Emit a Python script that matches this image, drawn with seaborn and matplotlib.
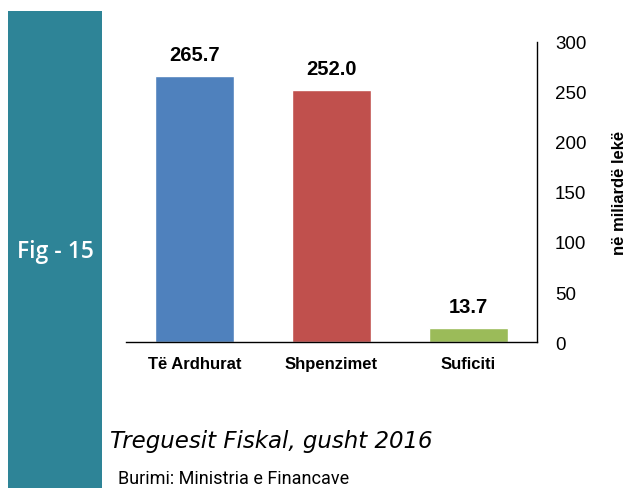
import matplotlib
matplotlib.use("Agg")
import matplotlib.pyplot as plt
import matplotlib.patches as mpatches
import seaborn as sns
import pandas as pd

sns.set_style("white")
plt.rcParams['font.family'] = ['Liberation Sans', 'DejaVu Sans']
plt.rcParams['text.color'] = 'black'
plt.rcParams['xtick.color'] = 'black'
plt.rcParams['ytick.color'] = 'black'
plt.rcParams['axes.labelcolor'] = 'black'

categories = ["Të Ardhurat", "Shpenzimet", "Suficiti"]
values = [265.7, 252.0, 13.7]
bar_colors = ["#4F81BD", "#C0504D", "#9BBB59"]
yticks = [0, 50, 100, 150, 200, 250, 300]

df = pd.DataFrame({"kategoria": categories, "vlera": values})

fig = plt.figure(figsize=(6.31, 4.89), dpi=100)
ax = fig.add_axes([126 / 631, 1 - 343 / 489, 411 / 631, 300 / 489])

sns.barplot(data=df, x="kategoria", y="vlera", hue="kategoria",
            palette=bar_colors, saturation=1, width=0.58, legend=False, ax=ax)

# value labels on top of bars
for p, v in zip(ax.patches, values):
    ax.text(p.get_x() + p.get_width() / 2, v + 12, f"{v:.1f}",
            ha="center", va="bottom", fontsize=14.5, fontweight="bold")

ax.set_ylim(0, 300)
ax.set_yticks(yticks)
ax.yaxis.tick_right()
ax.yaxis.set_label_position("right")
ax.tick_params(axis="y", length=0, pad=13, labelsize=13.5)
ax.tick_params(axis="x", length=0, pad=10, labelsize=12)
for lab in ax.get_xticklabels():
    lab.set_fontweight("bold")
ax.set_xlabel("")
ax.set_ylabel("në miliardë lekë", fontsize=12, fontweight="bold", labelpad=18)

# keep only bottom and right borders
for side in ["top", "left"]:
    ax.spines[side].set_visible(False)
for side in ["bottom", "right"]:
    ax.spines[side].set_color("black")
    ax.spines[side].set_linewidth(1)

# teal side panel
fig.patches.append(mpatches.Rectangle((8 / 631, 0), 94 / 631, 1 - 12 / 489,
                                      transform=fig.transFigure,
                                      facecolor="#2E8497", edgecolor="none"))
fig.text(55 / 631, 1 - 252 / 489, "Fig - 15", color="white", fontsize=16.5,
         fontweight="semibold", ha="center", va="center",
         family=["Open Sans", "DejaVu Sans"])

fig.text(110 / 631, 1 - 442 / 489, "Treguesit Fiskal, gusht 2016",
         fontsize=16.5, fontstyle="italic", va="center",
         family=["DejaVu Sans"])
fig.text(118 / 631, 1 - 479 / 489, "Burimi: Ministria e Financave",
         fontsize=13, va="center", family=["Roboto", "DejaVu Sans"])

fig.savefig("out.png", dpi=100)
